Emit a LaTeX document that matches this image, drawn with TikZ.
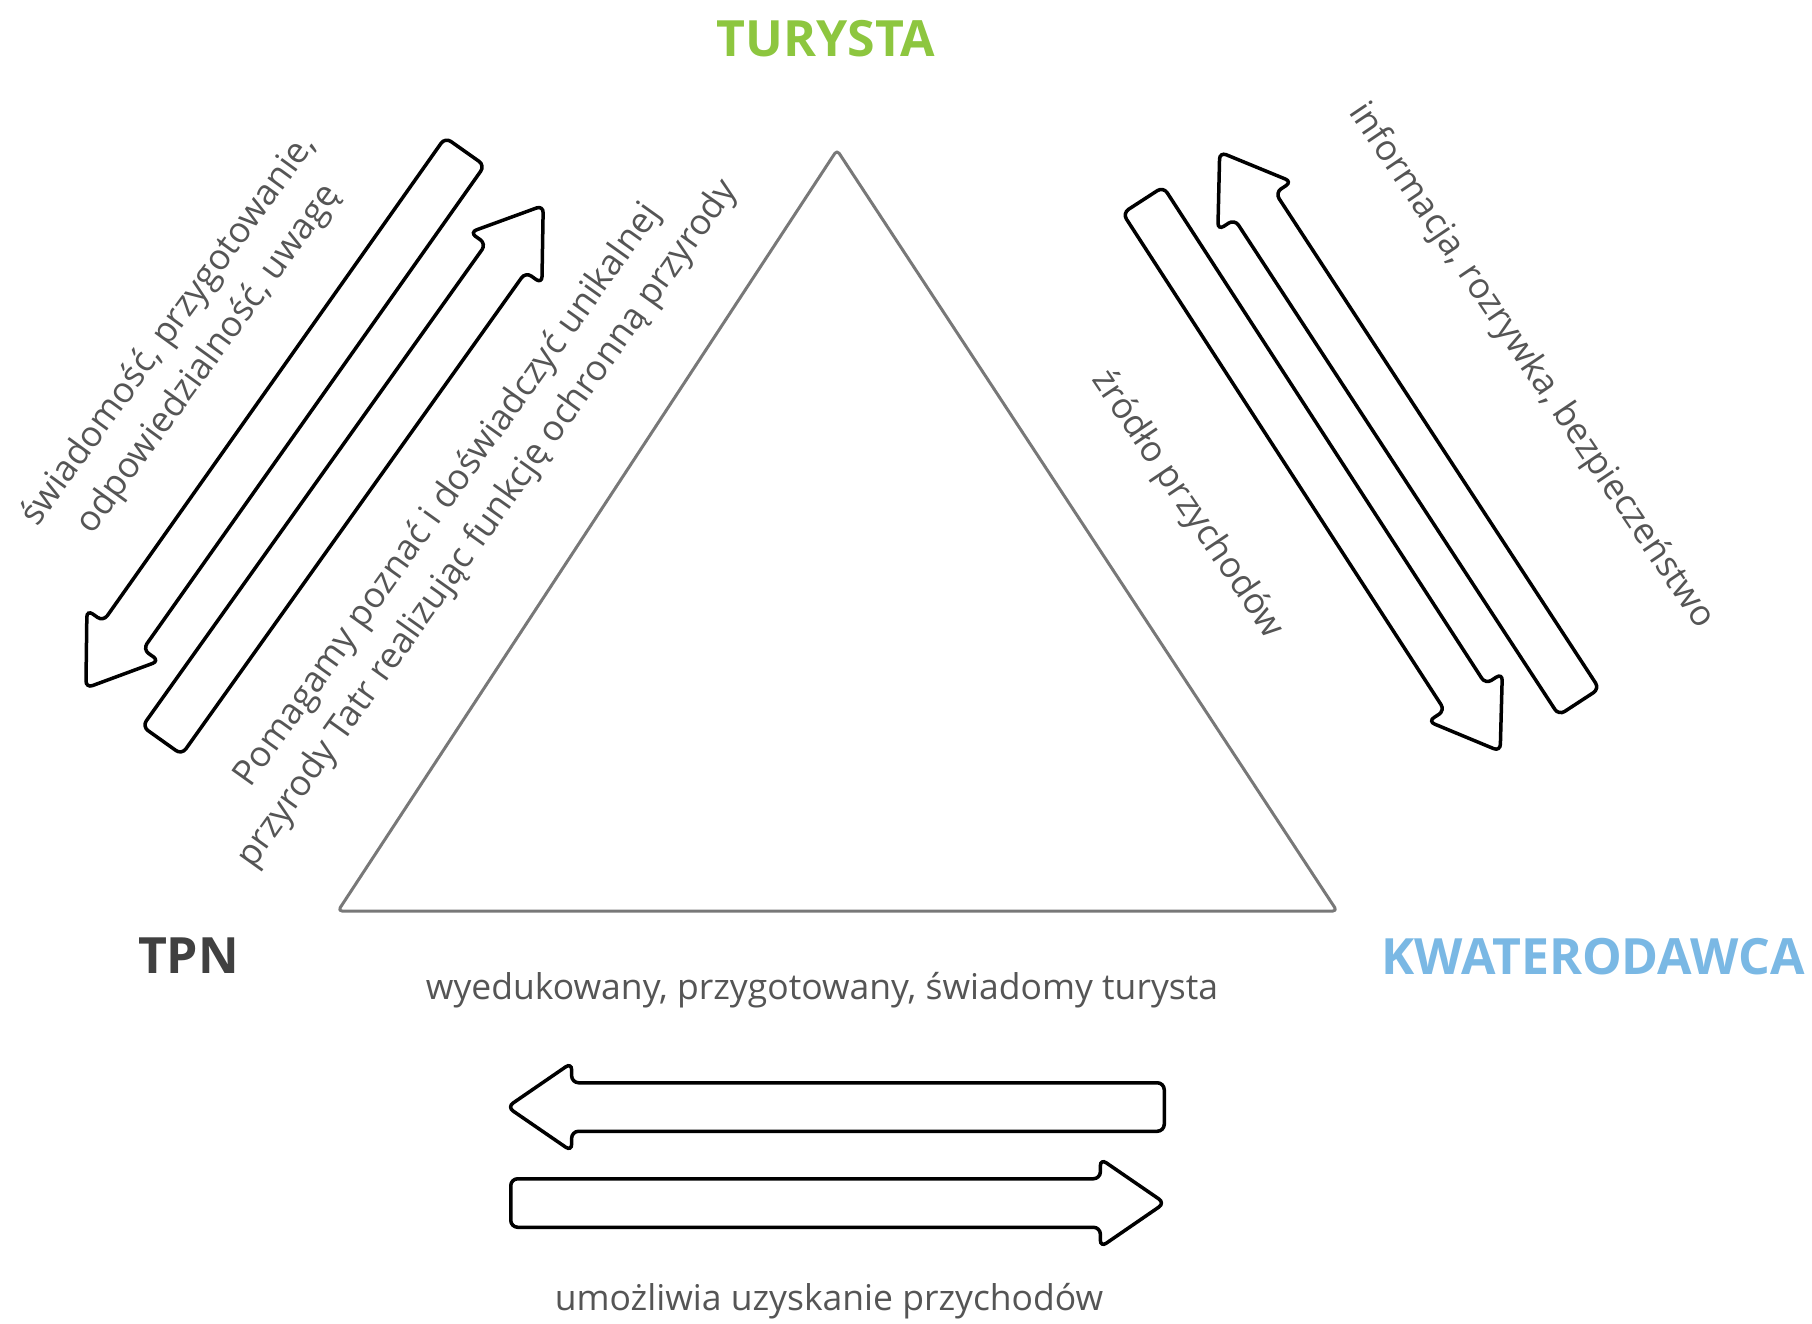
\documentclass[tikz,border=0pt]{standalone}
\usepackage{fontspec}
\setmainfont{Open Sans}
\usetikzlibrary{shapes.arrows}
\definecolor{turgreen}{RGB}{141,198,63}
\definecolor{kwblue}{RGB}{122,184,228}
\definecolor{tpngray}{RGB}{64,64,64}
\definecolor{txtgray}{RGB}{85,85,85}
\definecolor{trigray}{RGB}{120,120,120}
\begin{document}
\begin{tikzpicture}[x=1pt,y=-1pt,
  blockarrow/.style={single arrow, draw=black, fill=white, line width=3.5pt,
    rounded corners=7pt, inner xsep=0pt, inner ysep=22.5pt,
    single arrow head extend=20pt, single arrow tip angle=69,
    minimum height=657pt, anchor=tail},
  headlbl/.style={inner sep=0pt, font=\fontsize{50}{58}\selectfont\bfseries},
  lbl/.style={inner sep=0pt, text=txtgray, align=center, font=\fontsize{35.5}{49}\selectfont},
  tri/.style={draw=trigray, line width=3pt, rounded corners=4pt, line join=round}]
\useasboundingbox (0,0) rectangle (1812,1323);
% triangle
\coordinate (apex) at (837,150);
\coordinate (bl) at (338,911);
\coordinate (br) at (1337,911);
\draw[tri] (apex) -- (br) -- (bl) -- cycle;
% corner labels
\node[headlbl, text=turgreen] (tur) at (826,38.5) {TURYSTA};
\node[headlbl, text=tpngray] (tpn) at (188.5,956) {TPN};
\node[headlbl, text=kwblue] (kw) at (1593,957) {KWATERODAWCA};
% diagonal arrows, left pair
\node[blockarrow, rotate=234.76] (aA) at (466,150) {};
\node[blockarrow, rotate=54.53] (aB) at (161,742) {};
% diagonal arrows, right pair
\node[blockarrow, rotate=-57.06] (aC) at (1142,198.5) {};
\node[blockarrow, rotate=123.16] (aD) at (1580,703.5) {};
% bottom arrows
\node[blockarrow, rotate=180] (aU) at (1166,1107) {};
\node[blockarrow, minimum height=654pt] (aL) at (509,1203) {};
% rotated labels
\node[lbl, rotate=54] (l1) at (189,345) {świadomość, przygotowanie,\\odpowiedzialność, uwagę};
\node[lbl, rotate=54.5] (l2) at (468,510) {Pomagamy poznać i doświadczyć unikalnej\\przyrody Tatr realizując funkcję ochronną przyrody};
\node[lbl, rotate=-56] (l3) at (1187,505) {źródło przychodów};
\node[lbl, rotate=-56] (l4) at (1531,366) {informacja, rozrywka, bezpieczeństwo};
% bottom labels
\node[lbl, anchor=base] (b1) at (822,999) {wyedukowany, przygotowany, świadomy turysta};
\node[lbl, anchor=base] (b2) at (829,1310) {umożliwia uzyskanie przychodów};
\end{tikzpicture}
\end{document}
